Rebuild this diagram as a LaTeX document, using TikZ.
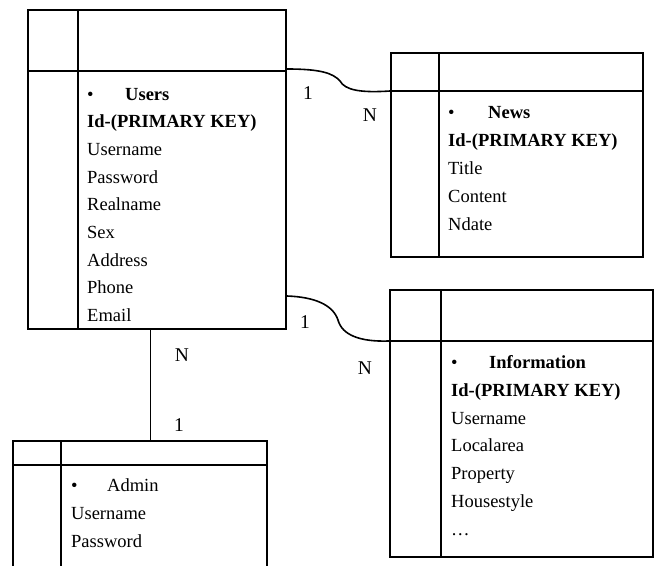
\documentclass[tikz,border=0pt]{standalone}
\usepackage{fontspec}
\setmainfont{Liberation Serif}
\begin{document}
\begin{tikzpicture}[x=1pt,y=-1pt,
  tbl/.style={draw,line width=2pt,rectangle,inner sep=0pt},
  sep/.style={line width=1.8pt},
  conn/.style={line width=1.6pt},
  txt/.style={anchor=base west,inner sep=0pt,font=\fontsize{18.5}{22}\selectfont},
  hd/.style={txt,font=\fontsize{18.5}{22}\selectfont\bfseries},
  card/.style={inner sep=0pt,font=\fontsize{19.5}{22}\selectfont}]
\clip (0,0) rectangle (656,565);
\fill[white] (0,0) rectangle (656,565);
% Users
\node[tbl,minimum width=258pt,minimum height=319pt] (users) at (157,169.5) {};
\draw[sep] ([xshift=51pt]users.north west) -- ([xshift=51pt]users.south west);
\draw[sep] ([yshift=-62pt]users.north west) -- ([yshift=-62pt]users.north east);
\node[txt] (ub) at (87,100) {•};
\node[hd] (un) at (125,100) {Users};
\node[hd] (u1) at (87,127.7) {Id-(PRIMARY KEY)};
\node[txt] (u2) at (87,155.4) {Username};
\node[txt] (u3) at (87,183.1) {Password};
\node[txt] (u4) at (87,210.8) {Realname};
\node[txt] (u5) at (87,238.5) {Sex};
\node[txt] (u6) at (87,266.2) {Address};
\node[txt] (u7) at (87,293.9) {Phone};
\node[txt] (u8) at (87,321.6) {Email};
% News
\node[tbl,minimum width=252pt,minimum height=204pt] (news) at (517,155) {};
\draw[sep] ([xshift=49pt]news.north west) -- ([xshift=49pt]news.south west);
\draw[sep] ([yshift=-39pt]news.north west) -- ([yshift=-39pt]news.north east);
\node[txt] (nb) at (448,118) {•};
\node[hd] (nn) at (488,118) {News};
\node[hd] (n1) at (448,146) {Id-(PRIMARY KEY)};
\node[txt] (n2) at (448,174) {Title};
\node[txt] (n3) at (448,202) {Content};
\node[txt] (n4) at (448,230) {Ndate};
% Information
\node[tbl,minimum width=263pt,minimum height=267pt] (info) at (521.5,423.5) {};
\draw[sep] ([xshift=52pt]info.north west) -- ([xshift=52pt]info.south west);
\draw[sep] ([yshift=-52pt]info.north west) -- ([yshift=-52pt]info.north east);
\node[txt] (ib) at (451,368) {•};
\node[hd] (in) at (489,368) {Information};
\node[hd] (i1) at (451,396) {Id-(PRIMARY KEY)};
\node[txt] (i2) at (451,424) {Username};
\node[txt] (i3) at (451,451.5) {Localarea};
\node[txt] (i4) at (451,479) {Property};
\node[txt] (i5) at (451,507) {Housestyle};
\node[txt] (i6) at (451,535) {\dots};
% Admin
\node[tbl,minimum width=254pt,minimum height=160pt] (admin) at (140,521) {};
\draw[sep] ([xshift=49pt]admin.north west) -- ([xshift=49pt]admin.south west);
\draw[sep] ([yshift=-25pt]admin.north west) -- ([yshift=-25pt]admin.north east);
\node[txt] (ab) at (71,491) {•};
\node[txt] (an) at (107,491) {Admin};
\node[txt] (a1) at (71,519) {Username};
\node[txt] (a2) at (71,547) {Password};
% connectors
\draw[conn] ([yshift=-60pt]users.north east) .. controls (320,69) and (333,73) .. (340,81)
  .. controls (345,90) and (360,93) .. ([yshift=-39pt]news.north west);
\draw[conn] ([yshift=-287pt]users.north east) .. controls (315,297) and (333,305) .. (338,320)
  .. controls (342,335) and (360,342) .. ([yshift=-52pt]info.north west);
\coordinate (vx) at (150.5,0);
\draw[conn] (users.south -| vx) -- (admin.north -| vx);
% cardinalities
\node[card] (c1) at (308,93) {1};
\node[card] (c2) at (370,115) {N};
\node[card] (c3) at (305,322) {1};
\node[card] (c4) at (365,368) {N};
\node[card] (c5) at (182,355) {N};
\node[card] (c6) at (179,425) {1};
\end{tikzpicture}
\end{document}
